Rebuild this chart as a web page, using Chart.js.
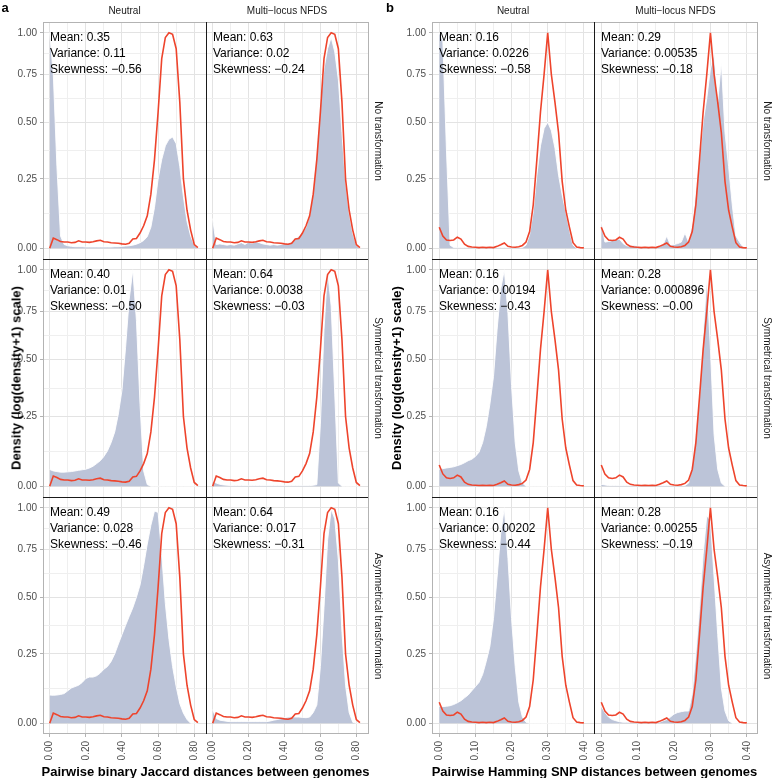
<!DOCTYPE html>
<html>
<head>
<meta charset="utf-8">
<script src="https://cdn.jsdelivr.net/npm/chart.js@4.4.1/dist/chart.umd.min.js"></script>
<style>
  body { margin: 0; background: #fff; }
  #wrap { position: relative; width: 772px; height: 778px; overflow: hidden; font-family: "Liberation Sans", Arial, sans-serif; }
  #wrap canvas { position: absolute; }
  .lbl { position: absolute; white-space: nowrap; line-height: 1; }
  .stats { position: absolute; white-space: nowrap; font-size: 12px; line-height: 16.3px; color: #000; }
  .line { position: absolute; }
</style>
</head>
<body>
<div id="wrap"></div>
<script>
// x grids of the density estimates
const JAC_X = [0, 0.02, 0.04, 0.06, 0.08, 0.1, 0.12, 0.14, 0.16, 0.18, 0.2, 0.22, 0.24, 0.26, 0.28, 0.3, 0.32, 0.34, 0.36, 0.38, 0.4,
  0.42, 0.44, 0.46, 0.48, 0.5, 0.52, 0.54, 0.56, 0.58, 0.6, 0.62, 0.64, 0.66, 0.68, 0.7, 0.72, 0.74, 0.76, 0.78, 0.8, 0.82];
const HAM_X = [0, 0.01, 0.02, 0.03, 0.04, 0.05, 0.06, 0.07, 0.08, 0.09, 0.1, 0.11, 0.12, 0.13, 0.14, 0.15, 0.16, 0.17, 0.18, 0.19, 0.2,
  0.21, 0.22, 0.23, 0.24, 0.25, 0.26, 0.27, 0.28, 0.29, 0.3, 0.31, 0.32, 0.33, 0.34, 0.35, 0.36, 0.37, 0.38, 0.39, 0.4];

// observed distribution (red line), same in every panel of a group
const JAC_RED = [0.0, 0.033, 0.028, 0.022, 0.02, 0.02, 0.018, 0.019, 0.024, 0.02, 0.02, 0.019, 0.021, 0.024, 0.026, 0.021, 0.02, 0.018,
  0.017, 0.016, 0.014, 0.013, 0.016, 0.03, 0.032, 0.05, 0.075, 0.11, 0.19, 0.33, 0.55, 0.84, 0.97, 1.0, 0.99, 0.9, 0.6, 0.25, 0.13, 0.06, 0.012, 0.002];
const HAM_RED = [0.07, 0.04, 0.027, 0.025, 0.027, 0.036, 0.03, 0.013, 0.006, 0.004, 0.003, 0.002, 0.003, 0.002, 0.003, 0.002, 0.006, 0.011,
  0.017, 0.006, 0.004, 0.003, 0.005, 0.009, 0.02, 0.055, 0.15, 0.33, 0.55, 0.75, 1.0, 0.75, 0.6, 0.45, 0.24, 0.13, 0.07, 0.018, 0.004, 0.002, 0.001];

// simulated distributions (grey areas)
const JAC_NEUTRAL_NONE = [1.0, 0.75, 0.3, 0.04, 0.012, 0.008, 0.006, 0.005, 0.005, 0.005, 0.004, 0.004, 0.004, 0.004, 0.004, 0.004, 0.004,
  0.004, 0.005, 0.005, 0.006, 0.007, 0.008, 0.01, 0.013, 0.018, 0.025, 0.038, 0.07, 0.14, 0.25, 0.33, 0.39, 0.42, 0.43, 0.4, 0.3, 0.18, 0.09, 0.04, 0.01, 0];
const JAC_NFDS_NONE = [0.1, 0.012, 0.014, 0.012, 0.01, 0.012, 0.01, 0.014, 0.018, 0.012, 0.02, 0.016, 0.022, 0.018, 0.014, 0.012, 0.01,
  0.012, 0.01, 0.012, 0.014, 0.016, 0.02, 0.03, 0.04, 0.05, 0.07, 0.11, 0.2, 0.37, 0.6, 0.78, 0.9, 0.97, 0.88, 0.72, 0.45, 0.24, 0.12, 0.05, 0.01, 0];
const JAC_NEUTRAL_SYM = [0.055, 0.05, 0.048, 0.046, 0.046, 0.047, 0.048, 0.05, 0.052, 0.054, 0.056, 0.06, 0.066, 0.075, 0.085, 0.1, 0.12,
  0.15, 0.19, 0.26, 0.36, 0.56, 0.82, 1.0, 0.7, 0.3, 0.05, 0.005, 0, 0, 0, 0, 0, 0, 0, 0, 0, 0, 0, 0, 0, 0];
const JAC_NFDS_SYM = [0.015, 0.01, 0.006, 0.004, 0.003, 0.002, 0.002, 0.002, 0.002, 0.002, 0.002, 0.002, 0.002, 0.002, 0.002, 0.002, 0.002,
  0.002, 0.002, 0.002, 0.002, 0.002, 0.002, 0.002, 0.002, 0.002, 0.002, 0.002, 0.003, 0.005, 0.22, 0.65, 1.0, 0.78, 0.34, 0.01, 0, 0, 0, 0, 0, 0];
const JAC_NEUTRAL_ASYM = [0.095, 0.094, 0.095, 0.097, 0.1, 0.11, 0.12, 0.125, 0.13, 0.14, 0.155, 0.16, 0.16, 0.165, 0.175, 0.19, 0.2,
  0.22, 0.25, 0.29, 0.33, 0.37, 0.41, 0.45, 0.5, 0.56, 0.66, 0.78, 0.89, 0.98, 0.97, 0.72, 0.47, 0.31, 0.2, 0.125, 0.065, 0.033, 0.012, 0, 0, 0];
const JAC_NFDS_ASYM = [0.045, 0.015, 0.01, 0.008, 0.006, 0.005, 0.005, 0.005, 0.005, 0.005, 0.005, 0.005, 0.005, 0.005, 0.005, 0.005, 0.007,
  0.01, 0.012, 0.015, 0.018, 0.02, 0.021, 0.02, 0.02, 0.019, 0.018, 0.02, 0.035, 0.06, 0.2, 0.45, 0.8, 0.99, 0.93, 0.69, 0.34, 0.13, 0.035, 0.003, 0, 0];

const HAM_NEUTRAL_NONE = [1.0, 0.95, 0.37, 0.01, 0.002, 0.002, 0.002, 0.002, 0.002, 0.002, 0.002, 0.002, 0.002, 0.002, 0.002, 0.002, 0.002,
  0.002, 0.002, 0.002, 0.002, 0.002, 0.002, 0.002, 0.01, 0.045, 0.125, 0.265, 0.39, 0.47, 0.5, 0.46, 0.38, 0.265, 0.186, 0.125, 0.06, 0.01, 0, 0, 0];
const HAM_NFDS_NONE = [0.09, 0.02, 0.022, 0.025, 0.028, 0.03, 0.015, 0.008, 0.006, 0.01, 0.006, 0.005, 0.005, 0.005, 0.004, 0.005, 0.006,
  0.012, 0.04, 0.01, 0.012, 0.015, 0.02, 0.05, 0.02, 0.08, 0.2, 0.33, 0.5, 0.62, 0.78, 0.87, 0.6, 0.82, 0.45, 0.3, 0.15, 0.04, 0.02, 0.003, 0];
const HAM_NEUTRAL_SYM = [0.056, 0.058, 0.06, 0.062, 0.064, 0.068, 0.072, 0.078, 0.085, 0.09, 0.1, 0.115, 0.15, 0.21, 0.3, 0.42, 0.65,
  0.88, 1.0, 0.74, 0.38, 0.15, 0.05, 0.01, 0, 0, 0, 0, 0, 0, 0, 0, 0, 0, 0, 0, 0, 0, 0, 0, 0];
const HAM_NFDS_SYM = [0.006, 0.004, 0.002, 0.002, 0.002, 0.002, 0.002, 0.002, 0.002, 0.002, 0.002, 0.002, 0.002, 0.002, 0.002, 0.002, 0.002,
  0.002, 0.002, 0.002, 0.002, 0.002, 0.002, 0.002, 0.01, 0.07, 0.18, 0.33, 0.62, 0.95, 0.55, 0.18, 0.055, 0.01, 0, 0, 0, 0, 0, 0, 0];
const HAM_NEUTRAL_ASYM = [0.056, 0.055, 0.056, 0.058, 0.062, 0.068, 0.075, 0.085, 0.095, 0.11, 0.125, 0.14, 0.17, 0.22, 0.28, 0.4, 0.6,
  0.84, 1.0, 0.7, 0.4, 0.2, 0.07, 0.02, 0.003, 0, 0, 0, 0, 0, 0, 0, 0, 0, 0, 0, 0, 0, 0, 0, 0];
const HAM_NFDS_ASYM = [0.056, 0.035, 0.02, 0.012, 0.008, 0.005, 0.003, 0.003, 0.003, 0.003, 0.003, 0.003, 0.003, 0.003, 0.003, 0.003, 0.003,
  0.008, 0.012, 0.02, 0.03, 0.035, 0.038, 0.04, 0.04, 0.1, 0.25, 0.45, 0.72, 0.95, 0.92, 0.6, 0.33, 0.12, 0.04, 0.008, 0, 0, 0, 0, 0];

// summary statistics printed in each panel
const JAC_STATS = [
  ["Mean: 0.35", "Variance: 0.11", "Skewness: −0.56"], ["Mean: 0.63", "Variance: 0.02", "Skewness: −0.24"],
  ["Mean: 0.40", "Variance: 0.01", "Skewness: −0.50"], ["Mean: 0.64", "Variance: 0.0038", "Skewness: −0.03"],
  ["Mean: 0.49", "Variance: 0.028", "Skewness: −0.46"], ["Mean: 0.64", "Variance: 0.017", "Skewness: −0.31"]
];
const HAM_STATS = [
  ["Mean: 0.16", "Variance: 0.0226", "Skewness: −0.58"], ["Mean: 0.29", "Variance: 0.00535", "Skewness: −0.18"],
  ["Mean: 0.16", "Variance: 0.00194", "Skewness: −0.43"], ["Mean: 0.28", "Variance: 0.000896", "Skewness: −0.00"],
  ["Mean: 0.16", "Variance: 0.00202", "Skewness: −0.44"], ["Mean: 0.28", "Variance: 0.00255", "Skewness: −0.19"]
];

const COLUMN_LABELS = ["Neutral", "Multi−locus NFDS"];
const ROW_LABELS = ["No transformation", "Symmetrical transformation", "Asymmetrical transformation"];

const Y_MAJOR = [0, 0.25, 0.5, 0.75, 1];
const JAC_MAJOR = [0, 0.2, 0.4, 0.6, 0.8];
const JAC_MINOR = [0.1, 0.3, 0.5, 0.7];
const HAM_MAJOR = [0, 0.1, 0.2, 0.3, 0.4];
const HAM_MINOR = [0.05, 0.15, 0.25, 0.35];

const RED = "rgb(238,68,44)";
const FILL = "rgb(188,196,216)";
const GRID_MAJOR = "#e3e3e3";
const GRID_MINOR = "#efefef";
const FONT = '"Liberation Sans", Arial, sans-serif';

// y axis on log(density+1) scale
class Log1pScale extends Chart.LinearScale {
  static id = "log1p";
  static defaults = Chart.LinearScale.defaults;
  getPixelForValue(v) {
    const t0 = Math.log2(1 + this.min), t1 = Math.log2(1 + this.max);
    return this.getPixelForDecimal((Math.log2(1 + v) - t0) / (t1 - t0));
  }
  getValueForPixel(p) {
    const t0 = Math.log2(1 + this.min), t1 = Math.log2(1 + this.max);
    return Math.pow(2, t0 + this.getDecimalForPixel(p) * (t1 - t0)) - 1;
  }
}
Chart.register(Log1pScale);

// minor breaks sit halfway between majors in transformed space
const Y_MINOR = [];
for (let i = 0; i < Y_MAJOR.length - 1; i++) {
  Y_MINOR.push(Math.pow(2, (Math.log2(1 + Y_MAJOR[i]) + Math.log2(1 + Y_MAJOR[i + 1])) / 2) - 1);
}

function tickList(major, minor) {
  return major.map(v => ({ value: v })).concat(minor.map(v => ({ value: v, minor: true })))
    .sort((a, b) => a.value - b.value);
}

// keep the plot area exactly on the panel box
function fixSize(s, w, h) {
  if (s.isHorizontal()) s.height = h; else s.width = w;
  s.paddingTop = 0; s.paddingBottom = 0; s.paddingLeft = 0; s.paddingRight = 0;
}

const wrap = document.getElementById("wrap");
const ROWS = [[22, 259], [259, 497], [497, 734]];

const groups = [
  { cols: [[43, 206], [206, 368]], xs: JAC_X, red: JAC_RED, min: -0.037, max: 0.865, major: JAC_MAJOR, minor: JAC_MINOR,
    grey: [JAC_NEUTRAL_NONE, JAC_NFDS_NONE, JAC_NEUTRAL_SYM, JAC_NFDS_SYM, JAC_NEUTRAL_ASYM, JAC_NFDS_ASYM], stats: JAC_STATS },
  { cols: [[432, 594], [594, 757]], xs: HAM_X, red: HAM_RED, min: -0.02, max: 0.428, major: HAM_MAJOR, minor: HAM_MINOR,
    grey: [HAM_NEUTRAL_NONE, HAM_NFDS_NONE, HAM_NEUTRAL_SYM, HAM_NFDS_SYM, HAM_NEUTRAL_ASYM, HAM_NFDS_ASYM], stats: HAM_STATS }
];

const Y_AXIS_W = 30, X_AXIS_H = 40;

groups.forEach(g => {
  for (let r = 0; r < 3; r++) {
    for (let c = 0; c < 2; c++) {
      const [L, R] = g.cols[c], [T, B] = ROWS[r];
      const left = c === 0, bottom = r === 2;
      const yw = left ? Y_AXIS_W : 0, xh = bottom ? X_AXIS_H : 0;
      const cv = document.createElement("canvas");
      cv.width = R - L + yw;
      cv.height = B - T + xh;
      cv.style.left = (L - yw) + "px";
      cv.style.top = T + "px";
      cv.style.width = cv.width + "px";
      cv.style.height = cv.height + "px";
      wrap.appendChild(cv);

      const grey = g.grey[r * 2 + c];
      new Chart(cv, {
        type: "line",
        data: {
          datasets: [
            { data: g.xs.map((x, i) => ({ x: x, y: g.red[i] })), borderColor: RED, borderWidth: 1.6,
              pointRadius: 0, fill: false, order: 0 },
            { data: g.xs.map((x, i) => ({ x: x, y: grey[i] })), backgroundColor: FILL, borderColor: "rgba(255,255,255,0.9)",
              borderWidth: 1, pointRadius: 0, fill: "origin", order: 1 }
          ]
        },
        options: {
          responsive: false,
          animation: false,
          events: [],
          layout: { padding: 0, autoPadding: false },
          plugins: { legend: { display: false }, tooltip: { enabled: false } },
          scales: {
            x: {
              type: "linear", min: g.min, max: g.max, bounds: "data",
              afterBuildTicks: s => { s.ticks = tickList(g.major, g.minor); },
              afterFit: s => fixSize(s, 0, xh),
              border: { display: false },
              grid: {
                color: ctx => ctx.tick && ctx.tick.minor ? GRID_MINOR : GRID_MAJOR,
                tickColor: ctx => ctx.tick && ctx.tick.minor ? "rgba(0,0,0,0)" : "#b3b3b3",
                drawTicks: bottom, tickLength: 3, lineWidth: 1
              },
              ticks: {
                display: bottom, autoSkip: false, minRotation: 90, maxRotation: 90, padding: 4,
                color: "#4d4d4d", font: { family: FONT, size: 10 },
                callback: (v, i, ticks) => ticks[i].minor ? "" : v.toFixed(2)
              }
            },
            y: {
              type: "log1p", min: Math.pow(2, -0.05) - 1, max: Math.pow(2, 1.05) - 1, bounds: "data",
              afterBuildTicks: s => { s.ticks = tickList(Y_MAJOR, Y_MINOR); },
              afterFit: s => fixSize(s, yw, 0),
              border: { display: false },
              grid: {
                color: ctx => ctx.tick && ctx.tick.minor ? GRID_MINOR : GRID_MAJOR,
                tickColor: ctx => ctx.tick && ctx.tick.minor ? "rgba(0,0,0,0)" : "#b3b3b3",
                drawTicks: left, tickLength: 3, lineWidth: 1
              },
              ticks: {
                display: left, autoSkip: false, padding: 3,
                color: "#4d4d4d", font: { family: FONT, size: 10 },
                callback: (v, i, ticks) => ticks[i].minor ? "" : v.toFixed(2)
              }
            }
          }
        }
      });

      const st = document.createElement("div");
      st.className = "stats";
      st.style.left = (L + 7) + "px";
      st.style.top = (T + 6.5) + "px";
      st.innerHTML = g.stats[r * 2 + c].join("<br>");
      wrap.appendChild(st);
    }
  }
});

function line(x, y, w, h, color) {
  const d = document.createElement("div");
  d.className = "line";
  d.style.cssText = "left:" + x + "px;top:" + y + "px;width:" + w + "px;height:" + h + "px;background:" + color;
  wrap.appendChild(d);
}

function label(text, cx, cy, rot, size, weight, color) {
  const d = document.createElement("div");
  d.className = "lbl";
  d.textContent = text;
  d.style.left = cx + "px";
  d.style.top = cy + "px";
  d.style.fontSize = size + "px";
  d.style.fontWeight = weight;
  d.style.color = color;
  d.style.transform = "translate(-50%,-50%) rotate(" + rot + "deg)";
  wrap.appendChild(d);
}

// panel borders: grey outside, black between facets
groups.forEach(g => {
  const L = g.cols[0][0], M = g.cols[1][0], R = g.cols[1][1];
  line(L, 22, R - L, 1, "#b3b3b3");
  line(L, 733, R - L + 1, 1, "#b3b3b3");
  line(L, 22, 1, 712, "#b3b3b3");
  line(R, 22, 1, 712, "#b3b3b3");
  line(M, 22, 1, 712, "#1a1a1a");
  line(L, 259, R - L, 1, "#1a1a1a");
  line(L, 497, R - L, 1, "#1a1a1a");
});

groups.forEach((g, gi) => {
  g.cols.forEach((c, ci) => label(COLUMN_LABELS[ci], (c[0] + c[1]) / 2, 11, 0, 10, "normal", "#1a1a1a"));
  ROWS.forEach((r, ri) => label(ROW_LABELS[ri], gi === 0 ? 377.5 : 766.5, (r[0] + r[1]) / 2, 90, 10, "normal", "#1a1a1a"));
});

label("a", 5, 7, 0, 13, "bold", "#000");
label("b", 390, 7, 0, 13, "bold", "#000");
label("Density (log(density+1) scale)", 16, 378, -90, 13, "bold", "#000");
label("Density (log(density+1) scale)", 396, 378, -90, 13, "bold", "#000");
label("Pairwise binary Jaccard distances between genomes", 205.5, 771, 0, 13, "bold", "#000");
label("Pairwise Hamming SNP distances between genomes", 594.5, 771, 0, 13, "bold", "#000");
</script>
</body>
</html>
